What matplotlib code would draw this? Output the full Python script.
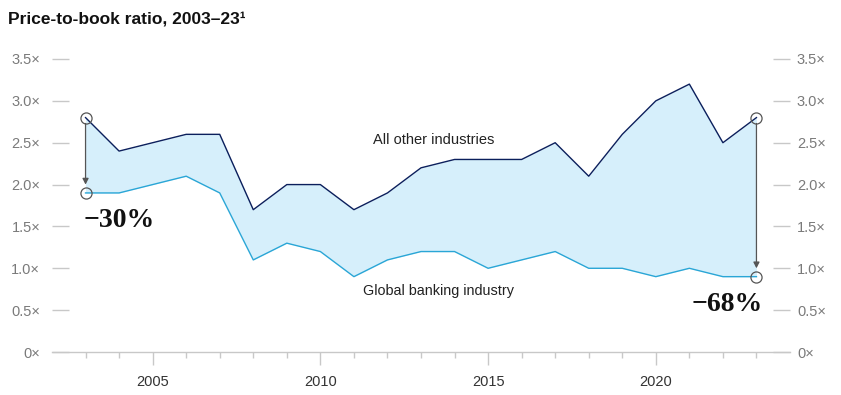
import matplotlib
matplotlib.use("Agg")
import matplotlib.pyplot as plt

years = list(range(2003, 2024))
other_industries = [2.8, 2.4, 2.5, 2.6, 2.6, 1.7, 2.0, 2.0, 1.7, 1.9, 2.2, 2.3, 2.3, 2.3, 2.5, 2.1, 2.6, 3.0, 3.2, 2.5, 2.8]
banking = [1.9, 1.9, 2.0, 2.1, 1.9, 1.1, 1.3, 1.2, 0.9, 1.1, 1.2, 1.2, 1.0, 1.1, 1.2, 1.0, 1.0, 0.9, 1.0, 0.9, 0.9]
y_ticks = [0, 0.5, 1.0, 1.5, 2.0, 2.5, 3.0, 3.5]
y_tick_labels = ["0×", "0.5×", "1.0×", "1.5×", "2.0×", "2.5×", "3.0×", "3.5×"]
x_major = [2005, 2010, 2015, 2020]
title = "Price-to-book ratio, 2003–23¹"
label_other = "All other industries"
label_bank = "Global banking industry"
change_start = "−30%"
change_end = "−68%"

plt.rcParams['font.family'] = ['Liberation Sans', 'DejaVu Sans']

W, H = 841, 395
fig = plt.figure(figsize=(W / 100, H / 100), dpi=100)
left, right, bottom, top = 52, 790, 352, 59
ax = fig.add_axes([left / W, 1 - bottom / H, (right - left) / W, (bottom - top) / H])

fill_col = "#d6effb"
dark = "#0b1f5c"
cyan = "#2aa6d6"
grey = "#c8c8c8"
txt_grey = "#7a7a7a"

ax.fill_between(years, banking, other_industries, color=fill_col, lw=0, zorder=1)
ax.plot(years, other_industries, color=dark, lw=1.0, zorder=3)
ax.plot(years, banking, color=cyan, lw=1.0, zorder=3)

ax.set_xlim(2002, 2024)
ax.set_ylim(0, 3.5)
for s in ["top", "left", "right"]:
    ax.spines[s].set_visible(False)
ax.spines["bottom"].set_color(grey)
ax.spines["bottom"].set_linewidth(1.0)

ax.set_yticks(y_ticks)
ax.set_yticklabels(y_tick_labels)
ax.tick_params(axis="y", which="major", direction="in", length=12.5, width=1.0, color=grey,
               labelcolor=txt_grey, labelsize=10.5, pad=8.5, left=True, right=False,
               labelleft=True, labelright=False)

axr = ax.twinx()
axr.set_ylim(0, 3.5)
for s in ["top", "left", "right", "bottom"]:
    axr.spines[s].set_visible(False)
axr.set_yticks(y_ticks)
axr.set_yticklabels(y_tick_labels)
axr.tick_params(axis="y", which="major", direction="in", length=12.5, width=1.0, color=grey,
                labelcolor=txt_grey, labelsize=10.5, pad=5, left=False, right=True,
                labelleft=False, labelright=True)

ax.set_xticks(x_major)
ax.set_xticks(years, minor=True)
ax.set_xticklabels([str(x) for x in x_major])
ax.tick_params(axis="x", which="major", direction="out", length=9.5, width=1.0, color=grey,
               labelcolor="#333333", labelsize=10.5, pad=7)
ax.tick_params(axis="x", which="minor", direction="out", length=4.5, width=1.0, color=grey)

# endpoint circles and arrows
for i in (0, len(years) - 1):
    x = years[i]
    ax.plot([x, x], [other_industries[i], banking[i]], ls="none", marker="o", ms=8,
            mfc="none", mec="#555555", mew=0.9, zorder=5)
    ax.annotate("", xy=(x, banking[i] + 0.1), xytext=(x, other_industries[i] - 0.07),
                arrowprops=dict(arrowstyle="-|>,head_length=0.35,head_width=0.18",
                                color="#555555", lw=0.9, shrinkA=0, shrinkB=0), zorder=4)

ax.text(2013.39, 2.53, label_other, ha="center", va="center", fontsize=10.5, color="#222222")
ax.text(2013.51, 0.73, label_bank, ha="center", va="center", fontsize=10.4, color="#222222")

ax.text(2002.93, 1.565, change_start, ha="left", va="center", fontsize=20, fontweight="bold",
        family=["Liberation Serif", "DejaVu Serif"], color="#111111")
ax.text(2023.2, 0.573, change_end, ha="right", va="center", fontsize=20, fontweight="bold",
        family=["Liberation Serif", "DejaVu Serif"], color="#111111")

fig.text(8 / W, 1 - 19 / H, title, ha="left", va="center", fontsize=12.5,
         fontweight="bold", color="#111111")

fig.savefig("out.png", dpi=100)
